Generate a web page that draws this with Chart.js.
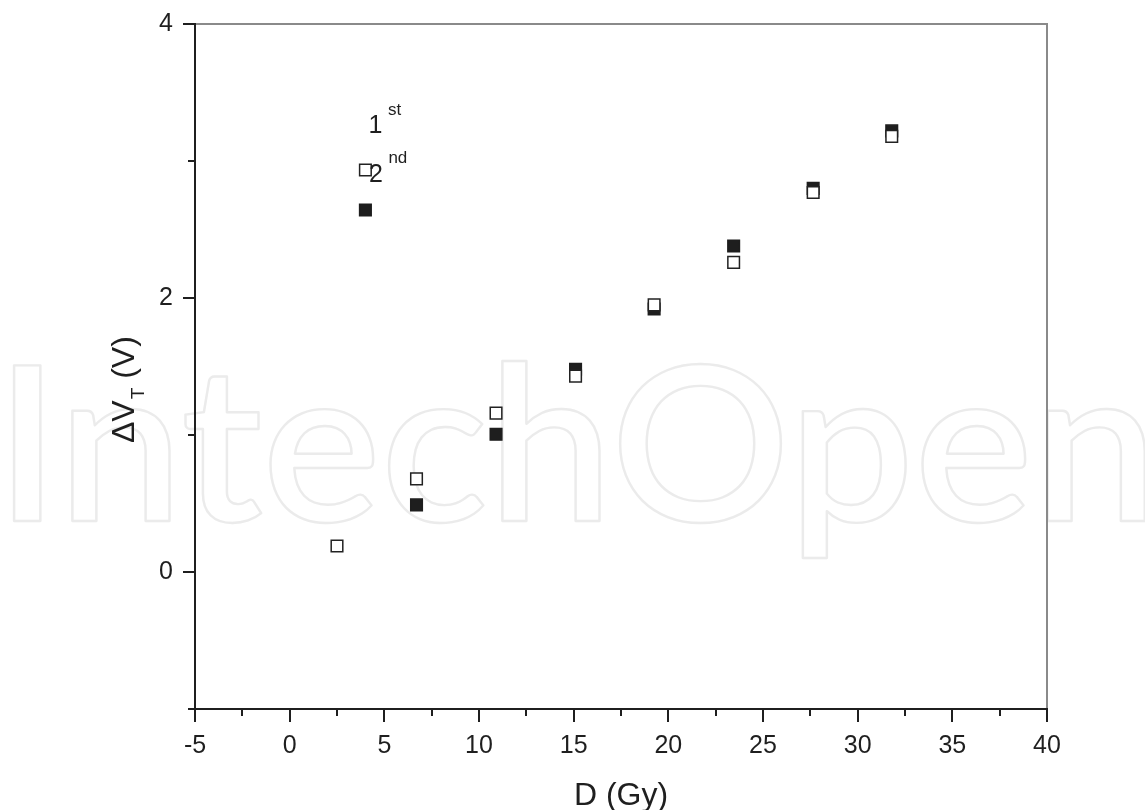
<!DOCTYPE html>
<html>
<head>
<meta charset="utf-8">
<script src="https://cdn.jsdelivr.net/npm/chart.js@4.4.1/dist/chart.umd.min.js"></script>
<style>
html,body{margin:0;padding:0;background:#ffffff;}
#wrap{width:1145px;height:810px;}
</style>
</head>
<body>
<div id="wrap"><canvas id="c" width="1145" height="810"></canvas></div>
<script>
// ---- data ----
const doseFirst  = [2.5, 6.7, 10.9, 15.1, 19.25, 23.45, 27.65, 31.8];
const dvFirst    = [0.19, 0.68, 1.16, 1.43, 1.95, 2.26, 2.77, 3.18];
const doseSecond = [6.7, 10.9, 15.1, 19.25, 23.45, 27.65, 31.8];
const dvSecond   = [0.49, 1.005, 1.48, 1.92, 2.38, 2.80, 3.22];
const seriesNames = ['1st', '2nd'];
const xTickValues = [-5, 0, 5, 10, 15, 20, 25, 30, 35, 40];
const yTickValues = [0, 2, 4];
const xTitle = 'D (Gy)';
const watermarkText = 'IntechOpen';

const FONT = '"Liberation Sans", Arial, sans-serif';
const INK = '#1f1f1f';

function pts(xs, ys) { return xs.map((x, i) => ({x: x, y: ys[i]})); }

const decor = {
  id: 'decor',
  beforeDraw(chart) {
    const ctx = chart.ctx;
    ctx.save();
    ctx.font = '600 222px Lato';
    const wPre = ctx.measureText(watermarkText.slice(0, -1)).width;
    const ablI = ctx.measureText(watermarkText[0]).actualBoundingBoxLeft;
    const ablN = ctx.measureText(watermarkText.slice(-1)).actualBoundingBoxLeft;
    const sx = (1047 - 13) / (wPre - ablN + ablI);
    const x0 = 13 + ablI * sx;
    ctx.translate(x0, 521);
    ctx.scale(sx, 0.97);
    ctx.strokeStyle = '#ebebeb';
    ctx.lineWidth = 2.4;
    ctx.lineJoin = 'round';
    ctx.strokeText(watermarkText, 0, 0);
    ctx.restore();
  },
  afterDraw(chart) {
    const ctx = chart.ctx;
    const a = chart.chartArea;
    const xs = chart.scales.x, ys = chart.scales.y;
    ctx.save();
    // frame: top/right grey, left/bottom black
    ctx.lineWidth = 2;
    ctx.strokeStyle = '#8a8a8a';
    ctx.beginPath();
    ctx.moveTo(a.left, a.top); ctx.lineTo(a.right, a.top); ctx.lineTo(a.right, a.bottom);
    ctx.stroke();
    ctx.strokeStyle = INK;
    ctx.beginPath();
    ctx.moveTo(a.left, a.top - 1); ctx.lineTo(a.left, a.bottom); ctx.lineTo(a.right + 1, a.bottom);
    ctx.stroke();
    // x ticks (major every 5, minor every 2.5), pointing down
    ctx.beginPath();
    for (let v = xs.min; v <= xs.max + 1e-9; v += 2.5) {
      const p = Math.round(xs.getPixelForValue(v));
      const major = Math.abs(v % 5) < 1e-9;
      ctx.moveTo(p, a.bottom); ctx.lineTo(p, a.bottom + (major ? 13 : 7));
    }
    // y ticks (major every 2, minor every 1), pointing left
    for (let v = ys.min; v <= ys.max + 1e-9; v += 1) {
      const p = Math.round(ys.getPixelForValue(v));
      const major = Math.abs(v % 2) < 1e-9;
      ctx.moveTo(a.left, p); ctx.lineTo(a.left - (major ? 12 : 7), p);
    }
    ctx.stroke();

    // axis titles
    ctx.fillStyle = INK;
    ctx.font = '32px ' + FONT;
    ctx.textAlign = 'center';
    ctx.textBaseline = 'alphabetic';
    ctx.fillText(xTitle, (a.left + a.right) / 2, 805);

    ctx.save();
    ctx.translate(134, 443);
    ctx.rotate(-Math.PI / 2);
    ctx.textAlign = 'left';
    ctx.font = '32px ' + FONT;
    let tx = 0;
    ctx.fillText('\u0394V', tx, 0);
    tx += ctx.measureText('\u0394V').width;
    ctx.font = '19px ' + FONT;
    ctx.fillText('T', tx + 1, 10);
    tx += ctx.measureText('T').width + 1;
    ctx.font = '32px ' + FONT;
    ctx.fillText(' (V)', tx, 0);
    ctx.restore();

    // legend (placed as in the reference)
    const lx = xs.getPixelForValue(4.0);
    const ly1 = ys.getPixelForValue(2.934);
    const ly2 = ys.getPixelForValue(2.642);
    ctx.textAlign = 'left';
    ctx.font = '25px ' + FONT;
    ctx.fillText('1', lx + 3, ly1 - 37);
    ctx.font = '17px ' + FONT;
    ctx.fillText('st', lx + 22.5, ly1 - 55);
    ctx.fillText('nd', lx + 23, ly1 - 7);
    const ds0 = chart.data.datasets[0], ds1 = chart.data.datasets[1];
    const opt = (ds) => ({pointStyle: 'rect', radius: ds.pointRadius, borderWidth: ds.borderWidth, rotation: 0});
    ctx.fillStyle = ds1.backgroundColor; ctx.strokeStyle = ds1.borderColor; ctx.lineWidth = ds1.borderWidth;
    Chart.helpers.drawPoint(ctx, opt(ds1), lx, ly2);
    ctx.fillStyle = ds0.backgroundColor; ctx.strokeStyle = ds0.borderColor; ctx.lineWidth = ds0.borderWidth;
    Chart.helpers.drawPoint(ctx, opt(ds0), lx, ly1);
    // digit "2" overlaps the hollow marker in the reference
    ctx.fillStyle = INK;
    ctx.font = '25px ' + FONT;
    ctx.fillText('2', lx + 3.5, ly1 + 12);
    ctx.restore();
  }
};

new Chart(document.getElementById('c'), {
  type: 'scatter',
  data: {
    datasets: [
      {
        label: seriesNames[0],
        data: pts(doseFirst, dvFirst),
        pointStyle: 'rect',
        pointRadius: 8.2,
        backgroundColor: '#ffffff',
        borderColor: '#222222',
        borderWidth: 1.5
      },
      {
        label: seriesNames[1],
        data: pts(doseSecond, dvSecond),
        pointStyle: 'rect',
        pointRadius: 8.2,
        backgroundColor: '#1e1e1e',
        borderColor: '#1e1e1e',
        borderWidth: 1.5
      }
    ]
  },
  options: {
    responsive: false,
    animation: false,
    devicePixelRatio: 1,
    layout: {padding: {top: 24, right: 98, left: 0, bottom: 0}},
    plugins: {legend: {display: false}, tooltip: {enabled: false}},
    scales: {
      x: {
        type: 'linear',
        min: -5, max: 40,
        afterBuildTicks: (s) => { s.ticks = xTickValues.map(v => ({value: v})); },
        afterFit: (s) => { s.height = 101; s.paddingLeft = 0; s.paddingRight = 0; },
        grid: {display: false, drawTicks: false},
        border: {display: false},
        ticks: {color: INK, font: {family: FONT, size: 25}, padding: 22, maxRotation: 0, autoSkip: false}
      },
      y: {
        type: 'linear',
        min: -1, max: 4,
        afterBuildTicks: (s) => { s.ticks = yTickValues.map(v => ({value: v})); },
        afterFit: (s) => { s.width = 195; s.paddingTop = 0; s.paddingBottom = 0; },
        grid: {display: false, drawTicks: false},
        border: {display: false},
        ticks: {color: INK, font: {family: FONT, size: 25}, padding: 22}
      }
    }
  },
  plugins: [decor]
});
</script>
</body>
</html>
